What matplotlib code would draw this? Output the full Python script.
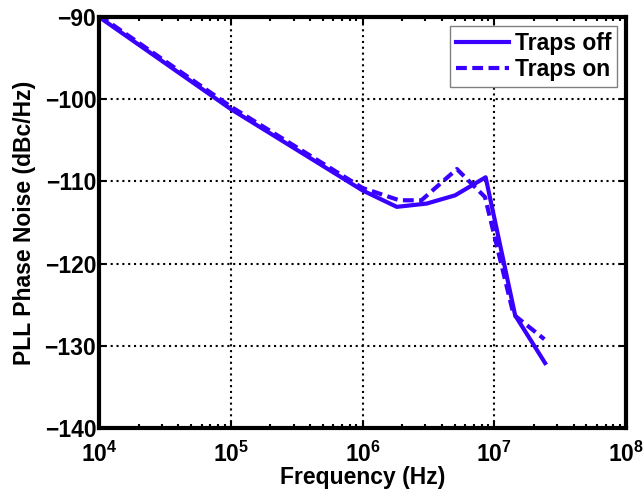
import matplotlib
matplotlib.use("Agg")
import matplotlib.pyplot as plt
from matplotlib.ticker import LogLocator, FixedLocator, NullFormatter

plt.rcParams['font.family'] = ['Liberation Sans', 'DejaVu Sans']
plt.rcParams['font.weight'] = 'bold'
plt.rcParams['mathtext.fontset'] = 'custom'
plt.rcParams['mathtext.rm'] = 'Liberation Sans:bold'
plt.rcParams['mathtext.bf'] = 'Liberation Sans:bold'
plt.rcParams['mathtext.it'] = 'Liberation Sans:bold'

freq_off = [1e4, 1e5, 1e6, 1.82e6, 3.07e6, 5.04e6, 8.6e6, 1.44e7, 2.43e7]
pn_off = [-90.0, -101.2, -111.1, -113.1, -112.7, -111.7, -109.5, -126.3, -132.1]

freq_on = [1e4, 1e5, 1e6, 1.9e6, 2.8e6, 5.2e6, 8.5e6, 1.4e7, 2.4e7]
pn_on = [-89.8, -100.9, -110.8, -112.3, -112.3, -108.5, -111.9, -126.2, -129.2]

labels = ['Traps off', 'Traps on']
xticks = [1e4, 1e5, 1e6, 1e7, 1e8]
xticklabels = [r'$\mathrm{10^{4}}$', r'$\mathrm{10^{5}}$', r'$\mathrm{10^{6}}$',
               r'$\mathrm{10^{7}}$', r'$\mathrm{10^{8}}$']
yticks = [-140, -130, -120, -110, -100, -90]

color = '#3a00ff'
fs = 16.5

fig = plt.figure(figsize=(6.43, 4.95), dpi=100)
ax = fig.add_axes([0.154, 0.1354, 0.8196, 0.8303])

ax.plot(freq_off, pn_off, color=color, lw=3.0, label=labels[0])
ax.plot(freq_on, pn_on, color=color, lw=3.0, linestyle=(0, (2.6, 1.3)), label=labels[1])

ax.set_xscale('log')
ax.set_xlim(1e4, 1e8)
ax.set_ylim(-140, -90)
ax.xaxis.set_major_locator(FixedLocator(xticks))
ax.set_xticklabels(xticklabels)
ax.xaxis.set_minor_locator(LogLocator(base=10, subs=range(2, 10)))
ax.xaxis.set_minor_formatter(NullFormatter())
ax.set_yticks(yticks)
ax.set_yticklabels(['\u2212%d' % abs(v) for v in yticks])

ax.grid(True, which='major', color='black', linestyle=(0, (1, 1.8)), linewidth=1.5)
ax.tick_params(which='both', direction='in', top=True, right=True, labelsize=fs, width=1.5)
ax.tick_params(which='major', length=5)
ax.tick_params(which='minor', length=3)
ax.tick_params(axis='x', which='major', pad=10)
ax.tick_params(axis='y', which='major', pad=2)
for lab in ax.get_xticklabels() + ax.get_yticklabels():
    lab.set_fontweight('bold')
for s in ax.spines.values():
    s.set_linewidth(3)

ax.set_xlabel('Frequency (Hz)', fontsize=fs, fontweight='bold', labelpad=-1)
ax.set_ylabel('PLL Phase Noise (dBc/Hz)', fontsize=fs, fontweight='bold', labelpad=6)

leg = ax.legend(loc='upper right', fontsize=fs, fancybox=False, framealpha=1,
                edgecolor='gray', borderaxespad=0.4, handlelength=2.3,
                handletextpad=0.25, borderpad=0.25, labelspacing=0.15)
leg.get_frame().set_linewidth(1.0)
for t in leg.get_texts():
    t.set_fontweight('bold')

fig.savefig('out.png', dpi=100)
